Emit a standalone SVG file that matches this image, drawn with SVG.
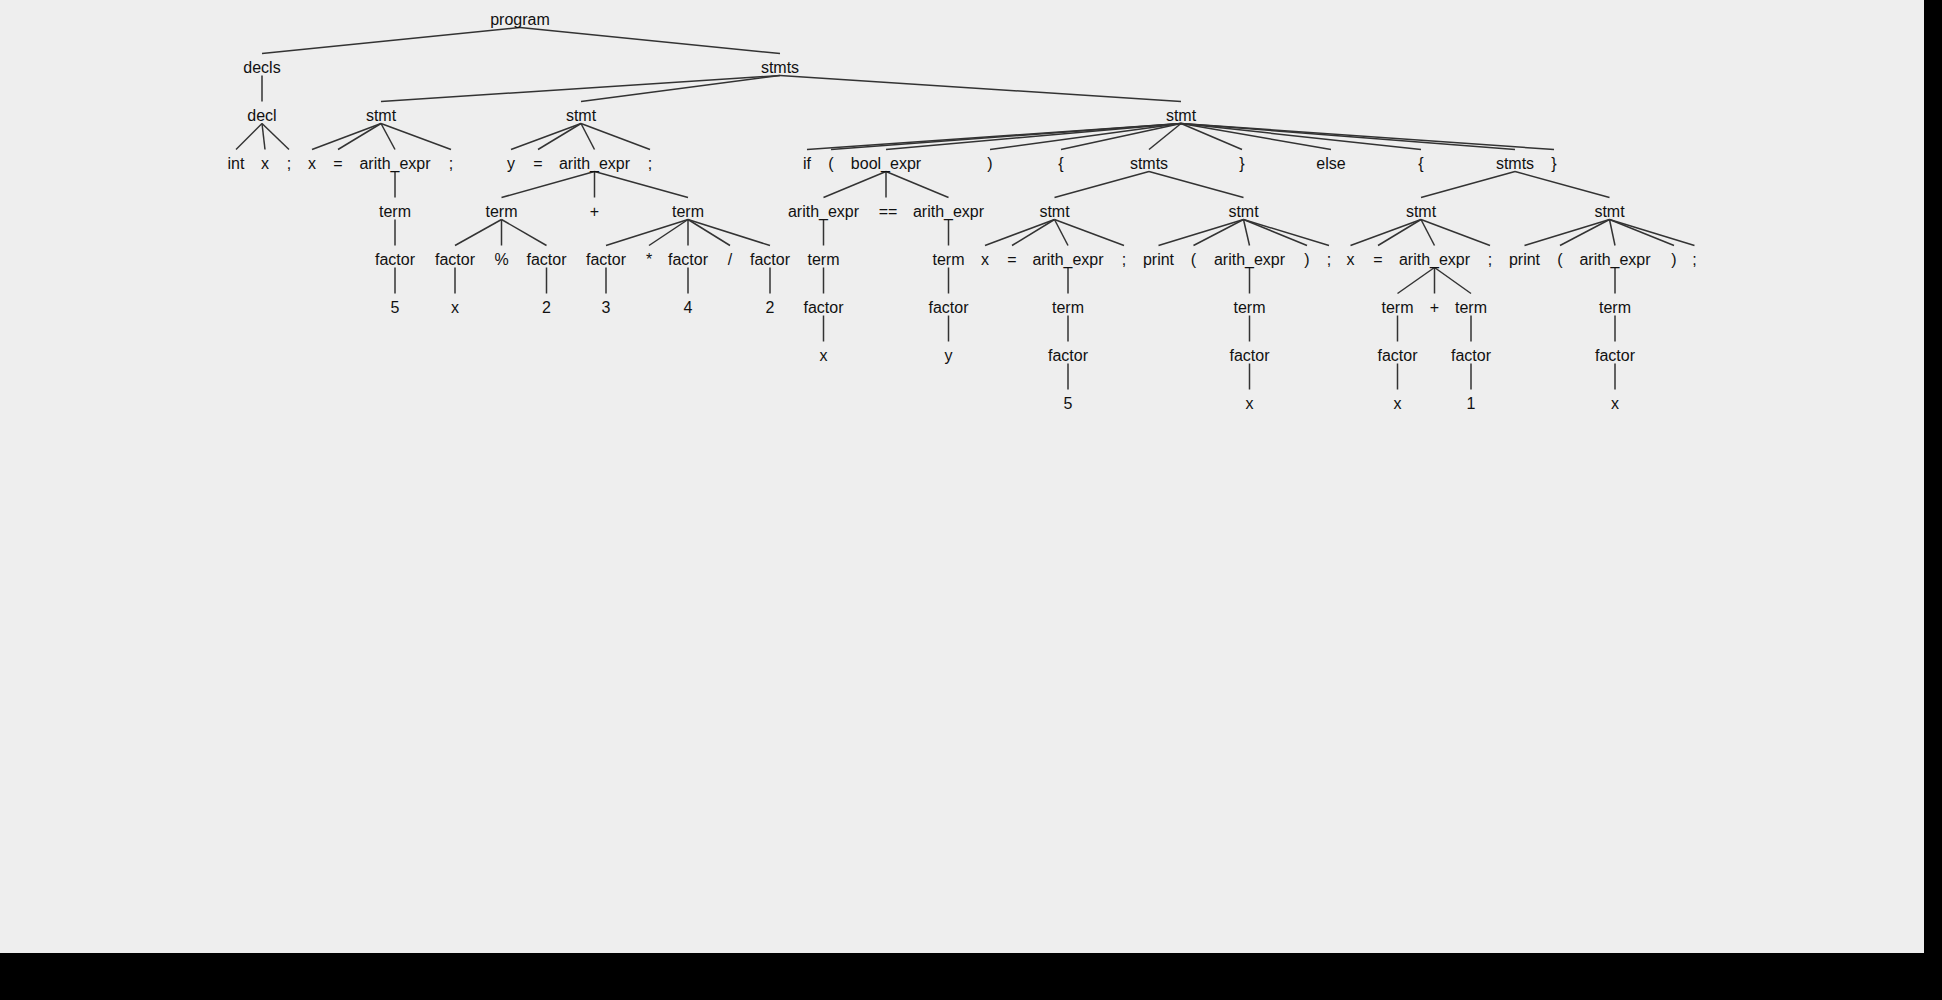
<svg xmlns="http://www.w3.org/2000/svg" width="1942" height="1000" viewBox="0 0 1942 1000">
<style>
.n text{font-family:"Liberation Sans",Arial,sans-serif;font-size:16px;fill:#111;text-anchor:middle}
.e line{stroke:#333;stroke-width:1.5;fill:none}
</style>
<rect x="0" y="0" width="1942" height="1000" fill="#eeeeee"/>
<rect x="1924" y="0" width="18" height="1000" fill="#000"/>
<rect x="0" y="953" width="1942" height="47" fill="#000"/>
<g class="e" id="connectors">
<line x1="520" y1="27.5" x2="262" y2="53.5"/>
<line x1="520" y1="27.5" x2="780" y2="53.5"/>
<line x1="262" y1="75.5" x2="262" y2="101.5"/>
<line x1="780" y1="75.5" x2="381" y2="101.5"/>
<line x1="780" y1="75.5" x2="581" y2="101.5"/>
<line x1="780" y1="75.5" x2="1181" y2="101.5"/>
<line x1="262" y1="123.5" x2="236" y2="149.5"/>
<line x1="262" y1="123.5" x2="265" y2="149.5"/>
<line x1="262" y1="123.5" x2="289" y2="149.5"/>
<line x1="381" y1="123.5" x2="312" y2="149.5"/>
<line x1="381" y1="123.5" x2="338" y2="149.5"/>
<line x1="381" y1="123.5" x2="395" y2="149.5"/>
<line x1="381" y1="123.5" x2="451" y2="149.5"/>
<line x1="581" y1="123.5" x2="511" y2="149.5"/>
<line x1="581" y1="123.5" x2="538" y2="149.5"/>
<line x1="581" y1="123.5" x2="594.5" y2="149.5"/>
<line x1="581" y1="123.5" x2="650" y2="149.5"/>
<line x1="1181" y1="123.5" x2="807" y2="149.5"/>
<line x1="1181" y1="123.5" x2="831" y2="149.5"/>
<line x1="1181" y1="123.5" x2="886" y2="149.5"/>
<line x1="1181" y1="123.5" x2="990" y2="149.5"/>
<line x1="1181" y1="123.5" x2="1061" y2="149.5"/>
<line x1="1181" y1="123.5" x2="1149" y2="149.5"/>
<line x1="1181" y1="123.5" x2="1242" y2="149.5"/>
<line x1="1181" y1="123.5" x2="1331" y2="149.5"/>
<line x1="1181" y1="123.5" x2="1421" y2="149.5"/>
<line x1="1181" y1="123.5" x2="1515" y2="149.5"/>
<line x1="1181" y1="123.5" x2="1554" y2="149.5"/>
<line x1="395" y1="171.5" x2="395" y2="197.5"/>
<line x1="594.5" y1="171.5" x2="501.5" y2="197.5"/>
<line x1="594.5" y1="171.5" x2="594.5" y2="197.5"/>
<line x1="594.5" y1="171.5" x2="688" y2="197.5"/>
<line x1="886" y1="171.5" x2="823.5" y2="197.5"/>
<line x1="886" y1="171.5" x2="886" y2="197.5"/>
<line x1="886" y1="171.5" x2="948.5" y2="197.5"/>
<line x1="1149" y1="171.5" x2="1054.5" y2="197.5"/>
<line x1="1149" y1="171.5" x2="1243.5" y2="197.5"/>
<line x1="1515" y1="171.5" x2="1421" y2="197.5"/>
<line x1="1515" y1="171.5" x2="1609.5" y2="197.5"/>
<line x1="395" y1="219.5" x2="395" y2="245.5"/>
<line x1="501.5" y1="219.5" x2="455" y2="245.5"/>
<line x1="501.5" y1="219.5" x2="501.5" y2="245.5"/>
<line x1="501.5" y1="219.5" x2="546.5" y2="245.5"/>
<line x1="688" y1="219.5" x2="606" y2="245.5"/>
<line x1="688" y1="219.5" x2="649" y2="245.5"/>
<line x1="688" y1="219.5" x2="688" y2="245.5"/>
<line x1="688" y1="219.5" x2="730" y2="245.5"/>
<line x1="688" y1="219.5" x2="770" y2="245.5"/>
<line x1="823.5" y1="219.5" x2="823.5" y2="245.5"/>
<line x1="948.5" y1="219.5" x2="948.5" y2="245.5"/>
<line x1="1054.5" y1="219.5" x2="985" y2="245.5"/>
<line x1="1054.5" y1="219.5" x2="1012" y2="245.5"/>
<line x1="1054.5" y1="219.5" x2="1068" y2="245.5"/>
<line x1="1054.5" y1="219.5" x2="1124" y2="245.5"/>
<line x1="1243.5" y1="219.5" x2="1158.5" y2="245.5"/>
<line x1="1243.5" y1="219.5" x2="1193.5" y2="245.5"/>
<line x1="1243.5" y1="219.5" x2="1249.5" y2="245.5"/>
<line x1="1243.5" y1="219.5" x2="1307" y2="245.5"/>
<line x1="1243.5" y1="219.5" x2="1329" y2="245.5"/>
<line x1="1421" y1="219.5" x2="1350.5" y2="245.5"/>
<line x1="1421" y1="219.5" x2="1378" y2="245.5"/>
<line x1="1421" y1="219.5" x2="1434.5" y2="245.5"/>
<line x1="1421" y1="219.5" x2="1490" y2="245.5"/>
<line x1="1609.5" y1="219.5" x2="1524.5" y2="245.5"/>
<line x1="1609.5" y1="219.5" x2="1560" y2="245.5"/>
<line x1="1609.5" y1="219.5" x2="1615" y2="245.5"/>
<line x1="1609.5" y1="219.5" x2="1674" y2="245.5"/>
<line x1="1609.5" y1="219.5" x2="1694.5" y2="245.5"/>
<line x1="395" y1="267.5" x2="395" y2="293.5"/>
<line x1="455" y1="267.5" x2="455" y2="293.5"/>
<line x1="546.5" y1="267.5" x2="546.5" y2="293.5"/>
<line x1="606" y1="267.5" x2="606" y2="293.5"/>
<line x1="688" y1="267.5" x2="688" y2="293.5"/>
<line x1="770" y1="267.5" x2="770" y2="293.5"/>
<line x1="823.5" y1="267.5" x2="823.5" y2="293.5"/>
<line x1="948.5" y1="267.5" x2="948.5" y2="293.5"/>
<line x1="1068" y1="267.5" x2="1068" y2="293.5"/>
<line x1="1249.5" y1="267.5" x2="1249.5" y2="293.5"/>
<line x1="1434.5" y1="267.5" x2="1397.5" y2="293.5"/>
<line x1="1434.5" y1="267.5" x2="1434.5" y2="293.5"/>
<line x1="1434.5" y1="267.5" x2="1471" y2="293.5"/>
<line x1="1615" y1="267.5" x2="1615" y2="293.5"/>
<line x1="823.5" y1="315.5" x2="823.5" y2="341.5"/>
<line x1="948.5" y1="315.5" x2="948.5" y2="341.5"/>
<line x1="1068" y1="315.5" x2="1068" y2="341.5"/>
<line x1="1249.5" y1="315.5" x2="1249.5" y2="341.5"/>
<line x1="1397.5" y1="315.5" x2="1397.5" y2="341.5"/>
<line x1="1471" y1="315.5" x2="1471" y2="341.5"/>
<line x1="1615" y1="315.5" x2="1615" y2="341.5"/>
<line x1="1068" y1="363.5" x2="1068" y2="389.5"/>
<line x1="1249.5" y1="363.5" x2="1249.5" y2="389.5"/>
<line x1="1397.5" y1="363.5" x2="1397.5" y2="389.5"/>
<line x1="1471" y1="363.5" x2="1471" y2="389.5"/>
<line x1="1615" y1="363.5" x2="1615" y2="389.5"/>
</g>
<g class="n">
<g id="n0"><text x="520" y="24.5">program</text></g>
<g id="n1"><text x="262" y="72.5">decls</text></g>
<g id="n2"><text x="780" y="72.5">stmts</text></g>
<g id="n3"><text x="262" y="120.5">decl</text></g>
<g id="n4"><text x="381" y="120.5">stmt</text></g>
<g id="n5"><text x="581" y="120.5">stmt</text></g>
<g id="n6"><text x="1181" y="120.5">stmt</text></g>
<g id="n7"><text x="236" y="168.5">int</text></g>
<g id="n8"><text x="265" y="168.5">x</text></g>
<g id="n9"><text x="289" y="168.5">;</text></g>
<g id="n10"><text x="312" y="168.5">x</text></g>
<g id="n11"><text x="338" y="168.5">=</text></g>
<g id="n12"><text x="395" y="168.5">arith_expr</text></g>
<g id="n13"><text x="451" y="168.5">;</text></g>
<g id="n14"><text x="511" y="168.5">y</text></g>
<g id="n15"><text x="538" y="168.5">=</text></g>
<g id="n16"><text x="594.5" y="168.5">arith_expr</text></g>
<g id="n17"><text x="650" y="168.5">;</text></g>
<g id="n18"><text x="807" y="168.5">if</text></g>
<g id="n19"><text x="831" y="168.5">(</text></g>
<g id="n20"><text x="886" y="168.5">bool_expr</text></g>
<g id="n21"><text x="990" y="168.5">)</text></g>
<g id="n22"><text x="1061" y="168.5">{</text></g>
<g id="n23"><text x="1149" y="168.5">stmts</text></g>
<g id="n24"><text x="1242" y="168.5">}</text></g>
<g id="n25"><text x="1331" y="168.5">else</text></g>
<g id="n26"><text x="1421" y="168.5">{</text></g>
<g id="n27"><text x="1515" y="168.5">stmts</text></g>
<g id="n28"><text x="1554" y="168.5">}</text></g>
<g id="n29"><text x="395" y="216.5">term</text></g>
<g id="n30"><text x="501.5" y="216.5">term</text></g>
<g id="n31"><text x="594.5" y="216.5">+</text></g>
<g id="n32"><text x="688" y="216.5">term</text></g>
<g id="n33"><text x="823.5" y="216.5">arith_expr</text></g>
<g id="n34"><text x="888" y="216.5">==</text></g>
<g id="n35"><text x="948.5" y="216.5">arith_expr</text></g>
<g id="n36"><text x="1054.5" y="216.5">stmt</text></g>
<g id="n37"><text x="1243.5" y="216.5">stmt</text></g>
<g id="n38"><text x="1421" y="216.5">stmt</text></g>
<g id="n39"><text x="1609.5" y="216.5">stmt</text></g>
<g id="n40"><text x="395" y="264.5">factor</text></g>
<g id="n41"><text x="455" y="264.5">factor</text></g>
<g id="n42"><text x="501.5" y="264.5">%</text></g>
<g id="n43"><text x="546.5" y="264.5">factor</text></g>
<g id="n44"><text x="606" y="264.5">factor</text></g>
<g id="n45"><text x="649" y="264.5">*</text></g>
<g id="n46"><text x="688" y="264.5">factor</text></g>
<g id="n47"><text x="730" y="264.5">/</text></g>
<g id="n48"><text x="770" y="264.5">factor</text></g>
<g id="n49"><text x="823.5" y="264.5">term</text></g>
<g id="n50"><text x="948.5" y="264.5">term</text></g>
<g id="n51"><text x="985" y="264.5">x</text></g>
<g id="n52"><text x="1012" y="264.5">=</text></g>
<g id="n53"><text x="1068" y="264.5">arith_expr</text></g>
<g id="n54"><text x="1124" y="264.5">;</text></g>
<g id="n55"><text x="1158.5" y="264.5">print</text></g>
<g id="n56"><text x="1193.5" y="264.5">(</text></g>
<g id="n57"><text x="1249.5" y="264.5">arith_expr</text></g>
<g id="n58"><text x="1307" y="264.5">)</text></g>
<g id="n59"><text x="1329" y="264.5">;</text></g>
<g id="n60"><text x="1350.5" y="264.5">x</text></g>
<g id="n61"><text x="1378" y="264.5">=</text></g>
<g id="n62"><text x="1434.5" y="264.5">arith_expr</text></g>
<g id="n63"><text x="1490" y="264.5">;</text></g>
<g id="n64"><text x="1524.5" y="264.5">print</text></g>
<g id="n65"><text x="1560" y="264.5">(</text></g>
<g id="n66"><text x="1615" y="264.5">arith_expr</text></g>
<g id="n67"><text x="1674" y="264.5">)</text></g>
<g id="n68"><text x="1694.5" y="264.5">;</text></g>
<g id="n69"><text x="395" y="312.5">5</text></g>
<g id="n70"><text x="455" y="312.5">x</text></g>
<g id="n71"><text x="546.5" y="312.5">2</text></g>
<g id="n72"><text x="606" y="312.5">3</text></g>
<g id="n73"><text x="688" y="312.5">4</text></g>
<g id="n74"><text x="770" y="312.5">2</text></g>
<g id="n75"><text x="823.5" y="312.5">factor</text></g>
<g id="n76"><text x="948.5" y="312.5">factor</text></g>
<g id="n77"><text x="1068" y="312.5">term</text></g>
<g id="n78"><text x="1249.5" y="312.5">term</text></g>
<g id="n79"><text x="1397.5" y="312.5">term</text></g>
<g id="n80"><text x="1434.5" y="312.5">+</text></g>
<g id="n81"><text x="1471" y="312.5">term</text></g>
<g id="n82"><text x="1615" y="312.5">term</text></g>
<g id="n83"><text x="823.5" y="360.5">x</text></g>
<g id="n84"><text x="948.5" y="360.5">y</text></g>
<g id="n85"><text x="1068" y="360.5">factor</text></g>
<g id="n86"><text x="1249.5" y="360.5">factor</text></g>
<g id="n87"><text x="1397.5" y="360.5">factor</text></g>
<g id="n88"><text x="1471" y="360.5">factor</text></g>
<g id="n89"><text x="1615" y="360.5">factor</text></g>
<g id="n90"><text x="1068" y="408.5">5</text></g>
<g id="n91"><text x="1249.5" y="408.5">x</text></g>
<g id="n92"><text x="1397.5" y="408.5">x</text></g>
<g id="n93"><text x="1471" y="408.5">1</text></g>
<g id="n94"><text x="1615" y="408.5">x</text></g>
</g>
</svg>
